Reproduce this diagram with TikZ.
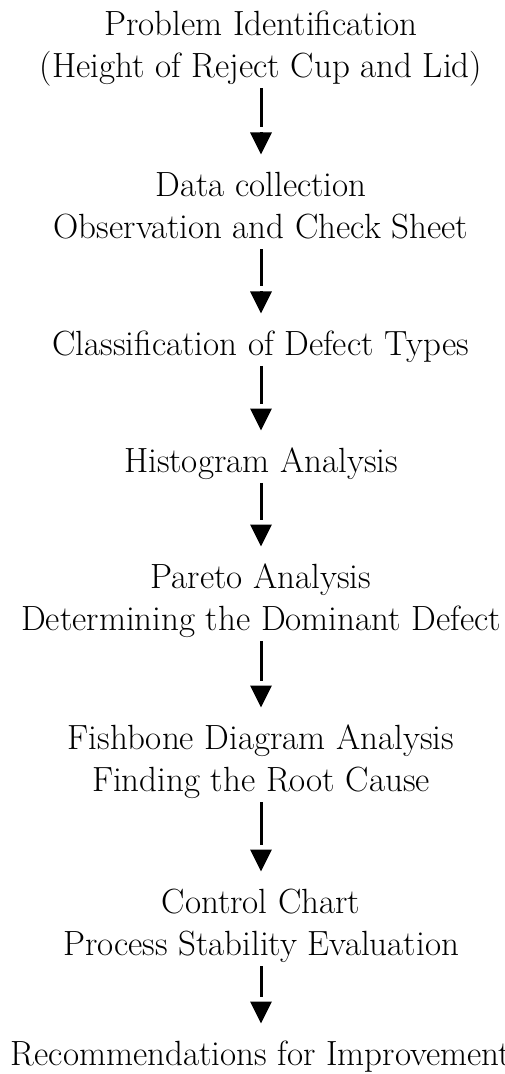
\documentclass[tikz,border=0pt]{standalone}
\usetikzlibrary{arrows.meta}
\newcommand{\stagetop}{\rule{0pt}{20.75pt}}
\newcommand{\stagebot}{\rule[-5pt]{0pt}{5pt}}

\begin{document}
\begin{tikzpicture}[x=0.5pt, y=-0.5pt,
  every node/.style={font=\fontsize{17.5}{21.25}\selectfont},
  stage/.style={align=center, inner sep=0pt, anchor=north},
  % white block behind the head leaves the small gap before it
  flow/.style={line width=1.5pt,
    -{Rectangle[white,width=4pt,length=2.5pt,line width=0pt,sep=0pt]Triangle[width=10.5pt,length=11pt]}}]
  \useasboundingbox (0,0) rectangle (504,1074);
  \foreach \i/\y/\txt in {
    1/-6.5/{Problem Identification\\(Height of Reject Cup and Lid)},
    2/154.5/{Data collection\\Observation and Check Sheet},
    3/313.5/{Classification of Defect Types},
    4/430.5/{Histogram Analysis},
    5/546.5/{Pareto Analysis\\Determining the Dominant Defect},
    6/707.5/{Fishbone Diagram Analysis\\Finding the Root Cause},
    7/871.5/{Control Chart\\Process Stability Evaluation},
    8/1023.5/{Recommendations for Improvement}} {
    \node[stage] (s\i) at (261,\y) {\stagetop\txt\stagebot};
  }
  \draw[flow] (s1) -- (s2);
  \draw[flow] (s2) -- (s3);
  \draw[flow] (s3) -- (s4);
  \draw[flow] (s4) -- (s5);
  \draw[flow] (s5) -- (s6);
  \draw[flow] (s6) -- (s7);
  \draw[flow] (s7) -- (s8);
\end{tikzpicture}
\end{document}
